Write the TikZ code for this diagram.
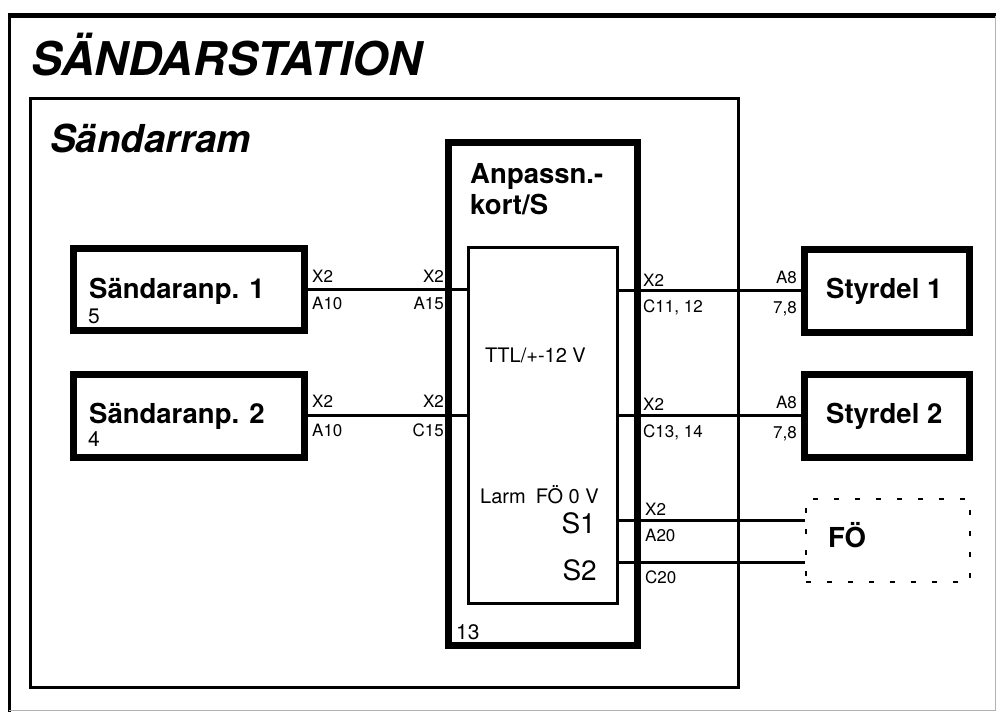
\documentclass[tikz,border=0pt]{standalone}
\usepackage{fontspec}
\setmainfont{TeX Gyre Heros}
\begin{document}
\begin{tikzpicture}[x=1pt,y=-1pt,
  heavy/.style={draw, line width=7pt, inner sep=0pt},
  thin box/.style={draw, line width=3pt, inner sep=0pt},
  wire/.style={line width=3pt},
  txt/.style={inner sep=0pt},
  lbl/.style={txt, font=\fontsize{17}{17}\selectfont},
  num/.style={txt, font=\fontsize{21}{21}\selectfont},
  blk/.style={txt, font=\fontsize{27.5}{27.5}\selectfont\bfseries},
  mid/.style={txt, font=\fontsize{20}{20}\selectfont},
  sig/.style={txt, font=\fontsize{28}{28}\selectfont}]
\useasboundingbox (0,0) rectangle (996,712);
% outer frame
\draw[line width=3pt] (9,712) -- (9,15.5);
\draw[line width=4.5pt] (7.5,15.5) -- (996,15.5);
\draw[black!30, line width=1pt] (995,15.5) -- (995,710) -- (9,710);
\node[txt, anchor=base west, font=\fontsize{46.5}{46.5}\selectfont\bfseries\itshape] (title) at (31,75) {SÄNDARSTATION};
% frame
\node[thin box, minimum width=708pt, minimum height=589pt] (ram) at (384,392.5) {};
\node[txt, anchor=base west, font=\fontsize{38.5}{38.5}\selectfont\bfseries\itshape] (ramt) at (50,152) {Sändarram};
% blocks
\node[heavy, minimum width=231pt, minimum height=82pt] (sa1) at (188.5,289) {};
\node[heavy, minimum width=231pt, minimum height=83pt] (sa2) at (188.5,415.5) {};
\node[heavy, minimum width=165pt, minimum height=83.5pt] (st1) at (886.5,290.75) {};
\node[heavy, minimum width=165pt, minimum height=83pt] (st2) at (886.5,415.5) {};
\node[heavy, minimum width=189pt, minimum height=503pt] (ak) at (542.5,393.5) {};
\node[thin box, minimum width=149pt, minimum height=356pt] (in) at (542.5,425) {};
\node[draw, line width=2pt, dash pattern=on 5pt off 16pt, minimum width=164pt, minimum height=83pt] (fo) at (888,540.5) {};
% block texts
\node[blk, anchor=base west] (sa1t) at (89,298) {Sändaranp. 1};
\node[num, anchor=base west] (sa1n) at (88,323) {5};
\node[blk, anchor=base west] (sa2t) at (89,423) {Sändaranp. 2};
\node[num, anchor=base west] (sa2n) at (88,446) {4};
\node[blk, anchor=base west] (st1t) at (826,298.5) {Styrdel 1};
\node[blk, anchor=base west] (st2t) at (826,423) {Styrdel 2};
\node[blk, anchor=base west] (fot) at (828,547) {FÖ};
\node[blk, anchor=base west] (akt1) at (470,183) {Anpassn.-};
\node[blk, anchor=base west] (akt2) at (470,214) {kort/S};
\node[num, anchor=base west] (akn) at (456,639) {13};
\node[mid, anchor=base west] (ttl) at (485,362) {TTL/+-12 V};
\node[mid, anchor=base west] (larm) at (480,503) {Larm\enspace FÖ 0 V};
\node[sig, anchor=base east] (s1t) at (596,533) {S1};
\node[sig, anchor=base east] (s2t) at (597,580) {S2};
% wires
\coordinate (ys1) at (0,520);
\coordinate (ys2) at (0,562);
\draw[wire] (sa1.east) -- (sa1.east -| in.west);
\draw[wire] (sa2.east) -- (sa2.east -| in.west);
\draw[wire] (in.east |- st1.west) -- (st1.west);
\draw[wire] (in.east |- st2.west) -- (st2.west);
\draw[wire] (in.east |- ys1) -- (fo.west |- ys1);
\draw[wire] (in.east |- ys2) -- (fo.west |- ys2);
% wire labels left
\node[lbl, anchor=base west] (a1) at (312,282.7) {X2};
\node[lbl, anchor=base west] (a2) at (312,309) {A10};
\node[lbl, anchor=base east] (a3) at (444,282.7) {X2};
\node[lbl, anchor=base east] (a4) at (444,309) {A15};
\node[lbl, anchor=base west] (b1) at (312,407.7) {X2};
\node[lbl, anchor=base west] (b2) at (312,436.7) {A10};
\node[lbl, anchor=base east] (b3) at (444,407.7) {X2};
\node[lbl, anchor=base east] (b4) at (444,436.7) {C15};
% wire labels right
\node[lbl, anchor=base west] (c1) at (643,286.7) {X2};
\node[lbl, anchor=base west] (c2) at (643,312.7) {C11, 12};
\node[lbl, anchor=base east] (c3) at (797,283.3) {A8};
\node[lbl, anchor=base east] (c4) at (797,313.3) {7,8};
\node[lbl, anchor=base west] (d1) at (643,410) {X2};
\node[lbl, anchor=base west] (d2) at (643,437) {C13, 14};
\node[lbl, anchor=base east] (d3) at (797,408) {A8};
\node[lbl, anchor=base east] (d4) at (797,438) {7,8};
\node[lbl, anchor=base west] (e1) at (645,515) {X2};
\node[lbl, anchor=base west] (e2) at (645,541.7) {A20};
\node[lbl, anchor=base west] (e3) at (645,583) {C20};
\end{tikzpicture}
\end{document}
